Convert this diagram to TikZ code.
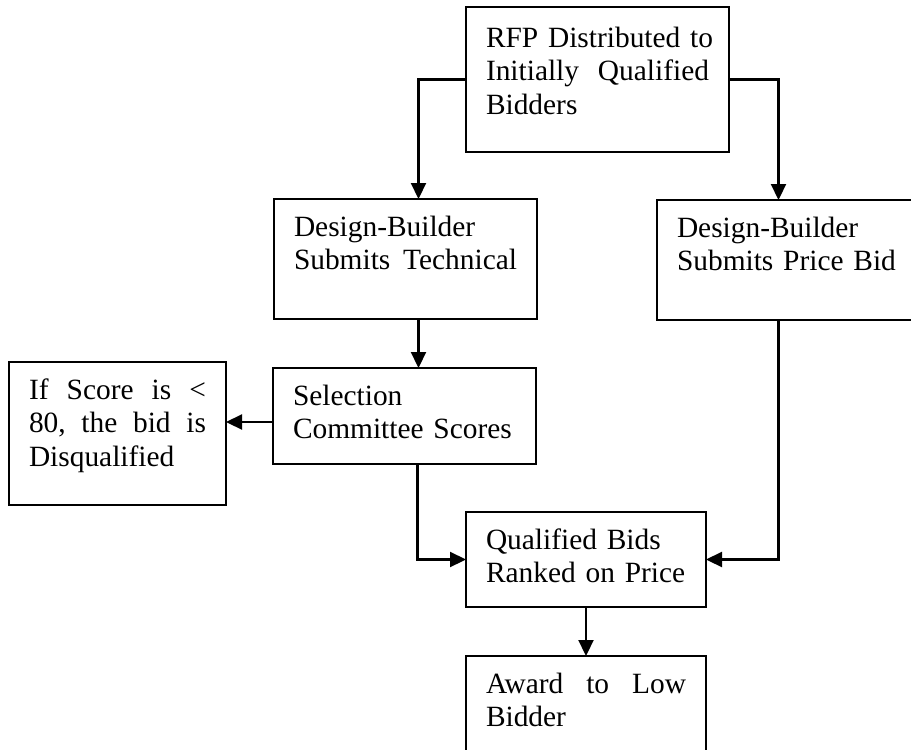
\documentclass[tikz,border=0pt]{standalone}
\usepackage{fontspec}
\setmainfont{Liberation Serif}
\usetikzlibrary{positioning,arrows.meta}
\newcommand{\fillline}[1]{\leavevmode\hbox to\hsize{#1}}

\begin{document}
\begin{tikzpicture}[x=1pt,y=-1pt,
    stepbox/.style={draw,line width=2.2pt,anchor=north west,align=left,
      text width=223pt,inner xsep=20pt,inner ysep=0pt,outer sep=0pt,
      text height=37pt,font=\fontsize{29.4}{33.5}\selectfont},
    flow/.style={line width=2.2pt,-{Triangle[length=16pt,width=15pt]}}]
  \useasboundingbox (0,0) rectangle (911,750);
  \clip (0,0) rectangle (911,750);

  \node[stepbox,text height=40pt,text depth=105pt] (rfp) at (466,7)
    {\fillline{RFP Distributed to}\\ \fillline{Initially\hfill Qualified}\\ Bidders};
  \node[stepbox,text depth=83pt] (tech) at (274,199)
    {Design-Builder\\ \fillline{Submits\hfill Technical}};
  \node[stepbox,text depth=83pt] (price) at (657,200)
    {Design-Builder\\ Submits Price Bid};
  \node[stepbox,text width=177pt,text depth=106pt] (disq) at (9,362)
    {\fillline{If\hfill Score\hfill is\hfill <}\\ \fillline{80,\hfill the\hfill bid\hfill is}\\ Disqualified};
  \node[stepbox,text depth=59pt] (sel) at (273,368)
    {Selection\\ Committee Scores};
  \node[stepbox,text width=200pt,text depth=58pt] (qual) at (466,512)
    {Qualified Bids\\ Ranked on Price};
  \node[stepbox,text width=200pt,text depth=90pt,below=49pt of qual] (award)
    {\fillline{Award\hfill to\hfill Low}\\ Bidder};

  \coordinate (selout) at ([yshift=-6pt]sel.west);
  \draw[flow] (rfp.west) -| ([xshift=13pt]tech.north);
  \draw[flow] (rfp.east) -| ([xshift=-10pt]price.north);
  \draw[flow] ([xshift=13pt]tech.south) -- ([xshift=13pt]tech.south |- sel.north);
  \draw[flow] (selout) -- (selout -| disq.east);
  \draw[flow] ([xshift=13pt]sel.south) |- (qual.west);
  \draw[flow] ([xshift=-10pt]price.south) |- (qual.east);
  \draw[flow] (qual) -- (award);
\end{tikzpicture}
\end{document}
